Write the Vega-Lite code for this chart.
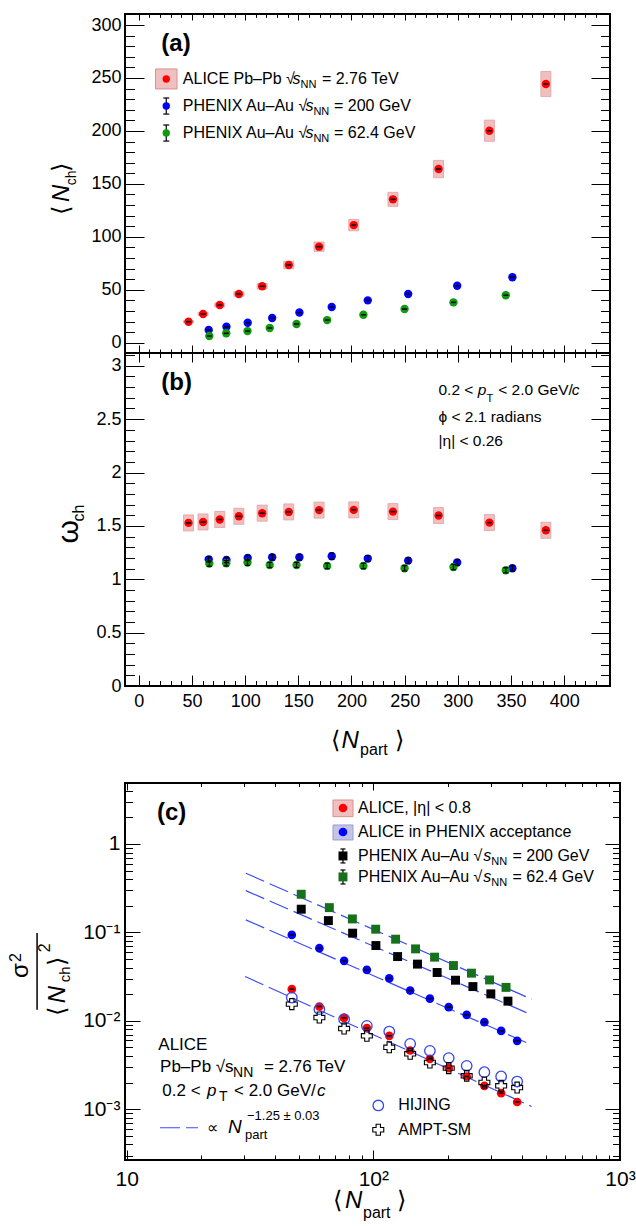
{
"$schema":"https://vega.github.io/schema/vega-lite/v6.json",
"autosize":"none",
"padding":{"left":125,"top":14,"right":511,"bottom":1212},
"bounds":"flush",
"spacing":0,
"resolve":{"scale":{"color":"independent"}},
"config":{"font":"Liberation Sans","view":{"stroke":"#000000","strokeWidth":2},"axis":{"grid":false,"domain":false,"labelFont":"Liberation Sans","labelColor":"#000000","tickColor":"#000000","tickWidth":1,"labelFlush":false,"labelOverlap":false},"text":{"font":"Liberation Sans","color":"#000000"}},
"datasets":{
"a":[
{"s":"ALICE","n":46.7,"v":19.8,"lo":18.8,"hi":20.8},{"s":"ALICE","n":60.4,"v":27.1,"lo":25.8,"hi":28.4},{"s":"ALICE","n":76.1,"v":35.6,"lo":33.9,"hi":37.3},{"s":"ALICE","n":94.1,"v":46.0,"lo":43.8,"hi":48.2},{"s":"ALICE","n":116.0,"v":53.3,"lo":50.7,"hi":55.9},{"s":"ALICE","n":141.0,"v":73.4,"lo":69.9,"hi":76.9},{"s":"ALICE","n":169.5,"v":90.7,"lo":86.3,"hi":95.1},{"s":"ALICE","n":202.1,"v":111.1,"lo":105.7,"hi":116.5},{"s":"ALICE","n":239.0,"v":135.4,"lo":128.8,"hi":142.0},{"s":"ALICE","n":281.9,"v":164.0,"lo":155.8,"hi":172.2},{"s":"ALICE","n":329.7,"v":200.2,"lo":190.2,"hi":210.2},{"s":"ALICE","n":382.8,"v":244.3,"lo":232.5,"hi":256.1},
{"s":"P200","n":65.7,"v":12.0},{"s":"P200","n":82.4,"v":15.1},{"s":"P200","n":102.4,"v":18.9},{"s":"P200","n":125.4,"v":23.3},{"s":"P200","n":151.0,"v":28.5},{"s":"P200","n":181.4,"v":33.7},{"s":"P200","n":215.3,"v":40.0},{"s":"P200","n":253.3,"v":46.0},{"s":"P200","n":299.4,"v":53.8},{"s":"P200","n":351.3,"v":61.8},
{"s":"P62","n":66.3,"v":6.3},{"s":"P62","n":82.2,"v":8.9},{"s":"P62","n":102.2,"v":11.0},{"s":"P62","n":123.1,"v":13.9},{"s":"P62","n":148.3,"v":17.7},{"s":"P62","n":177.1,"v":21.4},{"s":"P62","n":211.2,"v":26.4},{"s":"P62","n":249.9,"v":31.8},{"s":"P62","n":295.9,"v":38.1},{"s":"P62","n":345.1,"v":44.8}],
"la":[{"s":"ALICE","x":25.8,"y":249.0},{"s":"P200","x":25.8,"y":223.5,"lo":215.9,"hi":231.1},{"s":"P62","x":25.8,"y":198.0,"lo":190.4,"hi":205.6}],
"ta":[
{"k":"tag","x":21.2,"y":282.1,"t":"(a)"},
{"k":"leg","x":41.4,"y":249.0,"t":"ALICE Pb–Pb √"},{"k":"legi","x":144.6,"y":249.0,"t":"s"},{"k":"legs","x":152.0,"y":243.3,"t":"NN"},{"k":"leg","x":172.2,"y":249.0,"t":"= 2.76 TeV"},
{"k":"leg","x":41.4,"y":223.5,"t":"PHENIX Au–Au √"},{"k":"legi","x":156.8,"y":223.5,"t":"s"},{"k":"legs","x":164.2,"y":217.9,"t":"NN"},{"k":"leg","x":183.5,"y":223.5,"t":"= 200 GeV"},
{"k":"leg","x":41.4,"y":198.0,"t":"PHENIX Au–Au √"},{"k":"legi","x":156.8,"y":198.0,"t":"s"},{"k":"legs","x":164.2,"y":192.4,"t":"NN"},{"k":"leg","x":183.5,"y":198.0,"t":"= 62.4 GeV"},
{"k":"yt","x":-65.4,"y":120.6,"t":"⟨"},{"k":"yti","x":-65.4,"y":132.9,"t":"N"},{"k":"yts","x":-58.9,"y":148.8,"t":"ch"},{"k":"yt","x":-65.4,"y":161.2,"t":"⟩"}],
"b":[
{"s":"ALICE","n":46.7,"v":1.528,"lo":1.453,"hi":1.603},{"s":"ALICE","n":60.4,"v":1.537,"lo":1.462,"hi":1.612},{"s":"ALICE","n":76.1,"v":1.560,"lo":1.485,"hi":1.635},{"s":"ALICE","n":94.1,"v":1.590,"lo":1.515,"hi":1.665},{"s":"ALICE","n":116.0,"v":1.619,"lo":1.544,"hi":1.694},{"s":"ALICE","n":141.0,"v":1.631,"lo":1.556,"hi":1.706},{"s":"ALICE","n":169.5,"v":1.648,"lo":1.573,"hi":1.723},{"s":"ALICE","n":202.1,"v":1.650,"lo":1.575,"hi":1.725},{"s":"ALICE","n":239.0,"v":1.634,"lo":1.559,"hi":1.709},{"s":"ALICE","n":281.9,"v":1.597,"lo":1.522,"hi":1.672},{"s":"ALICE","n":329.7,"v":1.531,"lo":1.456,"hi":1.606},{"s":"ALICE","n":382.8,"v":1.459,"lo":1.384,"hi":1.534},
{"s":"P200","n":65.7,"v":1.187,"lo":1.162,"hi":1.212},{"s":"P200","n":82.4,"v":1.181,"lo":1.156,"hi":1.206},{"s":"P200","n":102.4,"v":1.200,"lo":1.175,"hi":1.225},{"s":"P200","n":125.4,"v":1.206,"lo":1.181,"hi":1.231},{"s":"P200","n":151.0,"v":1.206,"lo":1.181,"hi":1.231},{"s":"P200","n":181.4,"v":1.216,"lo":1.186,"hi":1.246},{"s":"P200","n":215.3,"v":1.194,"lo":1.166,"hi":1.222},{"s":"P200","n":253.3,"v":1.175,"lo":1.148,"hi":1.202},{"s":"P200","n":299.4,"v":1.157,"lo":1.131,"hi":1.183},{"s":"P200","n":351.3,"v":1.103,"lo":1.078,"hi":1.128},
{"s":"P62","n":66.3,"v":1.147,"lo":1.122,"hi":1.172},{"s":"P62","n":82.2,"v":1.150,"lo":1.125,"hi":1.175},{"s":"P62","n":102.2,"v":1.157,"lo":1.130,"hi":1.184},{"s":"P62","n":123.1,"v":1.134,"lo":1.110,"hi":1.158},{"s":"P62","n":148.3,"v":1.134,"lo":1.110,"hi":1.158},{"s":"P62","n":177.1,"v":1.125,"lo":1.100,"hi":1.150},{"s":"P62","n":211.2,"v":1.125,"lo":1.100,"hi":1.150},{"s":"P62","n":249.9,"v":1.103,"lo":1.078,"hi":1.128},{"s":"P62","n":295.9,"v":1.115,"lo":1.090,"hi":1.140},{"s":"P62","n":345.1,"v":1.084,"lo":1.060,"hi":1.108}],
"tb":[
{"k":"tag","x":21.2,"y":2.835,"t":"(b)"},
{"k":"ann","x":281.8,"y":2.770,"t":"0.2 <"},{"k":"anni","x":318.7,"y":2.770,"t":"p"},{"k":"anns","x":327.0,"y":2.685,"t":"T"},{"k":"ann","x":338.0,"y":2.770,"t":"< 2.0 GeV/"},{"k":"anni","x":407.1,"y":2.770,"t":"c"},
{"k":"ann","x":281.8,"y":2.519,"t":"ϕ < 2.1 radians"},{"k":"ann","x":281.8,"y":2.292,"t":"|η| < 0.26"},
{"k":"ytw","x":-57.1,"y":1.336,"t":"ω"},{"k":"yts","x":-51.6,"y":1.542,"t":"ch"},
{"k":"xt","x":180.5,"y":-0.583,"t":"⟨"},{"k":"xti","x":190.6,"y":-0.583,"t":"N"},{"k":"xts","x":208.1,"y":-0.649,"t":"part"},{"k":"xt","x":241.3,"y":-0.583,"t":"⟩"}],
"c":[
{"s":"ALICE","n":46.7,"v":0.0228},{"s":"ALICE","n":60.4,"v":0.01452},{"s":"ALICE","n":76.1,"v":0.01081},{"s":"ALICE","n":94.1,"v":0.00827},{"s":"ALICE","n":116.0,"v":0.00677},{"s":"ALICE","n":141.0,"v":0.00462},{"s":"ALICE","n":169.5,"v":0.00372},{"s":"ALICE","n":202.1,"v":0.00292},{"s":"ALICE","n":239.0,"v":0.00235},{"s":"ALICE","n":281.9,"v":0.00184},{"s":"ALICE","n":329.7,"v":0.00152},{"s":"ALICE","n":382.8,"v":0.00121},
{"s":"ACC","n":46.7,"v":0.0937},{"s":"ACC","n":60.4,"v":0.0663},{"s":"ACC","n":76.1,"v":0.0477},{"s":"ACC","n":94.1,"v":0.0377},{"s":"ACC","n":116.0,"v":0.0302},{"s":"ACC","n":141.0,"v":0.0220},{"s":"ACC","n":169.5,"v":0.01786},{"s":"ACC","n":202.1,"v":0.01428},{"s":"ACC","n":239.0,"v":0.01169},{"s":"ACC","n":281.9,"v":0.00967},{"s":"ACC","n":329.7,"v":0.00770},{"s":"ACC","n":382.8,"v":0.00594},
{"s":"P200","n":51.0,"v":0.183},{"s":"P200","n":65.7,"v":0.136},{"s":"P200","n":82.4,"v":0.098},{"s":"P200","n":102.4,"v":0.0710},{"s":"P200","n":125.4,"v":0.0533},{"s":"P200","n":151.0,"v":0.0438},{"s":"P200","n":181.4,"v":0.0352},{"s":"P200","n":215.3,"v":0.0288},{"s":"P200","n":253.3,"v":0.0244},{"s":"P200","n":299.4,"v":0.0202},{"s":"P200","n":351.3,"v":0.0167},
{"s":"P62","n":51.0,"v":0.270},{"s":"P62","n":66.3,"v":0.1906},{"s":"P62","n":82.2,"v":0.142},{"s":"P62","n":102.2,"v":0.1087},{"s":"P62","n":123.1,"v":0.0838},{"s":"P62","n":148.3,"v":0.0651},{"s":"P62","n":177.1,"v":0.0525},{"s":"P62","n":211.2,"v":0.0422},{"s":"P62","n":249.9,"v":0.0346},{"s":"P62","n":295.9,"v":0.0290},{"s":"P62","n":345.1,"v":0.0239},
{"s":"HIJING","n":46.7,"v":0.01834},{"s":"HIJING","n":60.4,"v":0.01355},{"s":"HIJING","n":76.1,"v":0.01045},{"s":"HIJING","n":94.1,"v":0.00878},{"s":"HIJING","n":116.0,"v":0.00757},{"s":"HIJING","n":141.0,"v":0.00550},{"s":"HIJING","n":169.5,"v":0.00458},{"s":"HIJING","n":202.1,"v":0.00379},{"s":"HIJING","n":239.0,"v":0.00310},{"s":"HIJING","n":281.9,"v":0.00263},{"s":"HIJING","n":329.7,"v":0.00235},{"s":"HIJING","n":382.8,"v":0.00206},
{"s":"AMPT","n":46.7,"v":0.01545},{"s":"AMPT","n":60.4,"v":0.01090},{"s":"AMPT","n":76.1,"v":0.00818},{"s":"AMPT","n":94.1,"v":0.00677},{"s":"AMPT","n":116.0,"v":0.00502},{"s":"AMPT","n":141.0,"v":0.00424},{"s":"AMPT","n":169.5,"v":0.00338},{"s":"AMPT","n":202.1,"v":0.00292},{"s":"AMPT","n":239.0,"v":0.00239},{"s":"AMPT","n":281.9,"v":0.00201},{"s":"AMPT","n":329.7,"v":0.00184},{"s":"AMPT","n":382.8,"v":0.00176}],
"cfit":[{"g":"l62","n":30.4,"v":0.467},{"g":"l62","n":438,"v":0.01758},{"g":"l200","n":30.4,"v":0.2966},{"g":"l200","n":438,"v":0.01169},{"g":"lacc","n":30.4,"v":0.1385},{"g":"lacc","n":438,"v":0.00536},{"g":"lal","n":30.2,"v":0.0317},{"g":"lal","n":438,"v":0.001076}],
"lc":[{"s":"ALICE","x":75.3,"y":2.552},{"s":"ACC","x":75.3,"y":1.366},{"s":"P200","x":75.3,"y":0.732,"lo":0.610,"hi":0.878},{"s":"P62","x":75.3,"y":0.424,"lo":0.353,"hi":0.508}],
"tc":[
{"k":"tag","x":13.27,"y":2.24,"t":"(c)"},
{"k":"leg","x":86.6,"y":2.552,"t":"ALICE, |η| < 0.8"},{"k":"leg","x":86.6,"y":1.366,"t":"ALICE in PHENIX acceptance"},
{"k":"leg","x":86.6,"y":0.732,"t":"PHENIX Au–Au √"},{"k":"legi","x":279.0,"y":0.732,"t":"s"},{"k":"legs","x":300.6,"y":0.626,"t":"NN"},{"k":"leg","x":366.4,"y":0.732,"t":"= 200 GeV"},
{"k":"leg","x":86.6,"y":0.424,"t":"PHENIX Au–Au √"},{"k":"legi","x":279.0,"y":0.424,"t":"s"},{"k":"legs","x":300.6,"y":0.3625,"t":"NN"},{"k":"leg","x":366.4,"y":0.424,"t":"= 62.4 GeV"},
{"k":"leg","x":126.2,"y":0.001104,"t":"HIJING"},{"k":"leg","x":126.2,"y":0.000587,"t":"AMPT-SM"},
{"k":"blk","x":13.43,"y":0.005355,"t":"ALICE"},
{"k":"blk","x":13.65,"y":0.002998,"t":"Pb–Pb √"},{"k":"blk","x":25.03,"y":0.002998,"t":"s"},{"k":"blks","x":26.98,"y":0.002585,"t":"NN"},{"k":"blk","x":36.0,"y":0.002998,"t":"= 2.76 TeV"},
{"k":"blk","x":13.94,"y":0.001589,"t":"0.2 <"},{"k":"blki","x":21.16,"y":0.001589,"t":"p"},{"k":"blks","x":23.66,"y":0.001384,"t":"T"},{"k":"blk","x":27.22,"y":0.001589,"t":"< 2.0 GeV/"},{"k":"blki","x":59.07,"y":0.001589,"t":"c"},
{"k":"leg","x":21.1,"y":0.000618,"t":"∝"},{"k":"fitn","x":25.74,"y":0.000634,"t":"N"},{"k":"fits","x":30.73,"y":0.000829,"t":"−1.25 ± 0.03"},{"k":"fits","x":30.17,"y":0.000515,"t":"part"},
{"k":"yt","x":3.98,"y":0.0305,"t":"σ"},{"k":"ysup","x":3.73,"y":0.0463,"t":"2"},
{"k":"yt","x":5.62,"y":0.0113,"t":"⟨"},{"k":"yti","x":5.62,"y":0.0158,"t":"N"},{"k":"yts","x":5.89,"y":0.0273,"t":"ch"},{"k":"yt","x":5.62,"y":0.0414,"t":"⟩"},{"k":"ysup","x":4.89,"y":0.0596,"t":"2"},
{"k":"xt","x":68.6,"y":0.0000771,"t":"⟨"},{"k":"xti","x":76.7,"y":0.0000771,"t":"N"},{"k":"xts","x":90.76,"y":0.0000594,"t":"part"},{"k":"xt","x":124.6,"y":0.0000771,"t":"⟩"}]
},
"vconcat":[
{"width":485,"height":339,
"resolve":{"axis":{"x":"independent","y":"independent"}},
"layer":[
{"data":{"name":"a"},"transform":[{"filter":"datum.s==='ALICE'"}],"mark":{"type":"bar","width":10,"fill":"#f0c0c0","stroke":"#e2a0a0","strokeWidth":0.8,"opacity":1},
"encoding":{"x":{"field":"n","type":"quantitative","scale":{"domain":[-8.3,438.4],"nice":false,"zero":false},"axis":{"orient":"bottom","title":null,"values":[0,10,20,30,40,50,60,70,80,90,100,110,120,130,140,150,160,170,180,190,200,210,220,230,240,250,260,270,280,290,300,310,320,330,340,350,360,370,380,390,400,410,420,430],"labels":false,"tickSize":{"condition":{"test":"datum.value % 50 === 0","value":-8},"value":-4}}},
"y":{"field":"lo","type":"quantitative","scale":{"domain":[-9.7,310.4],"nice":false,"zero":false},"axis":{"orient":"left","title":null,"values":[0,10,20,30,40,50,60,70,80,90,100,110,120,130,140,150,160,170,180,190,200,210,220,230,240,250,260,270,280,290,300,310],"labelExpr":"datum.value % 50 === 0 ? '' + datum.value : ''","labelFontSize":18,"labelPadding":23,"tickSize":{"condition":{"test":"datum.value % 50 === 0","value":-19},"value":-9.5}}},
"y2":{"field":"hi"}}},
{"data":{"name":"a"},"mark":{"type":"circle","size":70,"opacity":1},
"encoding":{"x":{"field":"n","type":"quantitative","scale":{"domain":[-8.3,438.4],"nice":false,"zero":false},"axis":{"orient":"top","title":null,"values":[0,10,20,30,40,50,60,70,80,90,100,110,120,130,140,150,160,170,180,190,200,210,220,230,240,250,260,270,280,290,300,310,320,330,340,350,360,370,380,390,400,410,420,430],"labels":false,"tickSize":{"condition":{"test":"datum.value % 50 === 0","value":-6},"value":-3.3}}},
"y":{"field":"v","type":"quantitative","scale":{"domain":[-9.7,310.4],"nice":false,"zero":false},"axis":{"orient":"right","title":null,"values":[0,10,20,30,40,50,60,70,80,90,100,110,120,130,140,150,160,170,180,190,200,210,220,230,240,250,260,270,280,290,300,310],"labels":false,"tickSize":{"condition":{"test":"datum.value % 50 === 0","value":-19},"value":-9.5}}},
"color":{"field":"s","type":"nominal","scale":{"domain":["ALICE","P200","P62"],"range":["#ff0000","#0000ff","#0f9a0f"]},"legend":null}}},
{"data":{"name":"a"},"mark":{"type":"tick","orient":"horizontal","size":5,"thickness":1.5,"color":"#000000","opacity":1},
"encoding":{"x":{"field":"n","type":"quantitative","scale":{"domain":[-8.3,438.4],"nice":false,"zero":false},"axis":null},"y":{"field":"v","type":"quantitative","scale":{"domain":[-9.7,310.4],"nice":false,"zero":false},"axis":null}}},
{"data":{"values":[{"x1":15.7,"x2":35.9,"y1":239.6,"y2":258.5}]},"mark":{"type":"rect","fill":"#f0c0c0","stroke":"#d89090","strokeWidth":1,"opacity":1},
"encoding":{"x":{"field":"x1","type":"quantitative","scale":{"domain":[-8.3,438.4],"nice":false,"zero":false},"axis":null},"x2":{"field":"x2"},"y":{"field":"y1","type":"quantitative","scale":{"domain":[-9.7,310.4],"nice":false,"zero":false},"axis":null},"y2":{"field":"y2"}}},
{"data":{"name":"la"},"transform":[{"filter":"datum.s!=='ALICE'"}],"mark":{"type":"rule","color":"#000000","strokeWidth":1.2},
"encoding":{"x":{"field":"x","type":"quantitative","scale":{"domain":[-8.3,438.4],"nice":false,"zero":false},"axis":null},"y":{"field":"lo","type":"quantitative","scale":{"domain":[-9.7,310.4],"nice":false,"zero":false},"axis":null},"y2":{"field":"hi"}}},
{"data":{"name":"la"},"transform":[{"filter":"datum.s!=='ALICE'"}],"mark":{"type":"tick","orient":"horizontal","size":6,"thickness":1.2,"color":"#000000","opacity":1},
"encoding":{"x":{"field":"x","type":"quantitative","scale":{"domain":[-8.3,438.4],"nice":false,"zero":false},"axis":null},"y":{"field":"lo","type":"quantitative","scale":{"domain":[-9.7,310.4],"nice":false,"zero":false},"axis":null}}},
{"data":{"name":"la"},"transform":[{"filter":"datum.s!=='ALICE'"}],"mark":{"type":"tick","orient":"horizontal","size":6,"thickness":1.2,"color":"#000000","opacity":1},
"encoding":{"x":{"field":"x","type":"quantitative","scale":{"domain":[-8.3,438.4],"nice":false,"zero":false},"axis":null},"y":{"field":"hi","type":"quantitative","scale":{"domain":[-9.7,310.4],"nice":false,"zero":false},"axis":null}}},
{"data":{"name":"la"},"mark":{"type":"circle","size":55,"opacity":1},
"encoding":{"x":{"field":"x","type":"quantitative","scale":{"domain":[-8.3,438.4],"nice":false,"zero":false},"axis":null},"y":{"field":"y","type":"quantitative","scale":{"domain":[-9.7,310.4],"nice":false,"zero":false},"axis":null},"color":{"field":"s","type":"nominal","scale":{"domain":["ALICE","P200","P62"],"range":["#ff0000","#0000ff","#0f9a0f"]},"legend":null}}},
{"data":{"name":"ta"},"transform":[{"filter":"datum.k==='tag'"}],"mark":{"type":"text","align":"left","baseline":"middle","fontSize":24,"fontWeight":"bold"},
"encoding":{"x":{"field":"x","type":"quantitative","scale":{"domain":[-8.3,438.4],"nice":false,"zero":false},"axis":null},"y":{"field":"y","type":"quantitative","scale":{"domain":[-9.7,310.4],"nice":false,"zero":false},"axis":null},"text":{"field":"t"}}},
{"data":{"name":"ta"},"transform":[{"filter":"datum.k==='leg'"}],"mark":{"type":"text","align":"left","baseline":"middle","fontSize":16},
"encoding":{"x":{"field":"x","type":"quantitative","scale":{"domain":[-8.3,438.4],"nice":false,"zero":false},"axis":null},"y":{"field":"y","type":"quantitative","scale":{"domain":[-9.7,310.4],"nice":false,"zero":false},"axis":null},"text":{"field":"t"}}},
{"data":{"name":"ta"},"transform":[{"filter":"datum.k==='legi'"}],"mark":{"type":"text","align":"left","baseline":"middle","fontSize":16,"fontStyle":"italic"},
"encoding":{"x":{"field":"x","type":"quantitative","scale":{"domain":[-8.3,438.4],"nice":false,"zero":false},"axis":null},"y":{"field":"y","type":"quantitative","scale":{"domain":[-9.7,310.4],"nice":false,"zero":false},"axis":null},"text":{"field":"t"}}},
{"data":{"name":"ta"},"transform":[{"filter":"datum.k==='legs'"}],"mark":{"type":"text","align":"left","baseline":"middle","fontSize":11},
"encoding":{"x":{"field":"x","type":"quantitative","scale":{"domain":[-8.3,438.4],"nice":false,"zero":false},"axis":null},"y":{"field":"y","type":"quantitative","scale":{"domain":[-9.7,310.4],"nice":false,"zero":false},"axis":null},"text":{"field":"t"}}},
{"data":{"name":"ta"},"transform":[{"filter":"datum.k==='yt'"}],"mark":{"type":"text","align":"left","baseline":"alphabetic","angle":270,"fontSize":24},
"encoding":{"x":{"field":"x","type":"quantitative","scale":{"domain":[-8.3,438.4],"nice":false,"zero":false},"axis":null},"y":{"field":"y","type":"quantitative","scale":{"domain":[-9.7,310.4],"nice":false,"zero":false},"axis":null},"text":{"field":"t"}}},
{"data":{"name":"ta"},"transform":[{"filter":"datum.k==='yti'"}],"mark":{"type":"text","align":"left","baseline":"alphabetic","angle":270,"fontSize":24,"fontStyle":"italic"},
"encoding":{"x":{"field":"x","type":"quantitative","scale":{"domain":[-8.3,438.4],"nice":false,"zero":false},"axis":null},"y":{"field":"y","type":"quantitative","scale":{"domain":[-9.7,310.4],"nice":false,"zero":false},"axis":null},"text":{"field":"t"}}},
{"data":{"name":"ta"},"transform":[{"filter":"datum.k==='yts'"}],"mark":{"type":"text","align":"left","baseline":"alphabetic","angle":270,"fontSize":14},
"encoding":{"x":{"field":"x","type":"quantitative","scale":{"domain":[-8.3,438.4],"nice":false,"zero":false},"axis":null},"y":{"field":"y","type":"quantitative","scale":{"domain":[-9.7,310.4],"nice":false,"zero":false},"axis":null},"text":{"field":"t"}}}
]},
{"width":485,"height":333,
"resolve":{"axis":{"x":"independent","y":"independent"}},
"layer":[
{"data":{"name":"b"},"transform":[{"filter":"datum.s==='ALICE'"}],"mark":{"type":"bar","width":10,"fill":"#f0c0c0","stroke":"#e2a0a0","strokeWidth":0.8,"opacity":1},
"encoding":{"x":{"field":"n","type":"quantitative","scale":{"domain":[-8.3,438.4],"nice":false,"zero":false},"axis":{"orient":"bottom","title":null,"values":[0,10,20,30,40,50,60,70,80,90,100,110,120,130,140,150,160,170,180,190,200,210,220,230,240,250,260,270,280,290,300,310,320,330,340,350,360,370,380,390,400,410,420,430],"labelExpr":"datum.value % 50 === 0 ? '' + datum.value : ''","labelFontSize":18,"labelPadding":17,"tickSize":{"condition":{"test":"datum.value % 50 === 0","value":-11},"value":-5.5}}},
"y":{"field":"lo","type":"quantitative","scale":{"domain":[0,3.12],"nice":false,"zero":false},"axis":{"orient":"left","title":null,"values":[0,0.1,0.2,0.3,0.4,0.5,0.6,0.7,0.8,0.9,1,1.1,1.2,1.3,1.4,1.5,1.6,1.7,1.8,1.9,2,2.1,2.2,2.3,2.4,2.5,2.6,2.7,2.8,2.9,3,3.1],"labelExpr":"abs(datum.value*2 - round(datum.value*2)) < 0.000001 ? '' + datum.value : ''","labelFontSize":18,"labelPadding":23,"tickSize":{"condition":{"test":"abs(datum.value*2 - round(datum.value*2)) < 0.000001","value":-19},"value":-9.5}}},
"y2":{"field":"hi"}}},
{"data":{"name":"b"},"mark":{"type":"circle","size":70,"opacity":1},
"encoding":{"x":{"field":"n","type":"quantitative","scale":{"domain":[-8.3,438.4],"nice":false,"zero":false},"axis":{"orient":"top","title":null,"values":[0,10,20,30,40,50,60,70,80,90,100,110,120,130,140,150,160,170,180,190,200,210,220,230,240,250,260,270,280,290,300,310,320,330,340,350,360,370,380,390,400,410,420,430],"labels":false,"tickSize":{"condition":{"test":"datum.value % 50 === 0","value":-9},"value":-4.5}}},
"y":{"field":"v","type":"quantitative","scale":{"domain":[0,3.12],"nice":false,"zero":false},"axis":{"orient":"right","title":null,"values":[0,0.1,0.2,0.3,0.4,0.5,0.6,0.7,0.8,0.9,1,1.1,1.2,1.3,1.4,1.5,1.6,1.7,1.8,1.9,2,2.1,2.2,2.3,2.4,2.5,2.6,2.7,2.8,2.9,3,3.1],"labels":false,"tickSize":{"condition":{"test":"abs(datum.value*2 - round(datum.value*2)) < 0.000001","value":-19},"value":-9.5}}},
"color":{"field":"s","type":"nominal","scale":{"domain":["ALICE","P200","P62"],"range":["#ff0000","#0000ff","#0f9a0f"]},"legend":null}}},
{"data":{"name":"b"},"transform":[{"filter":"datum.s==='ALICE'"}],"mark":{"type":"tick","orient":"horizontal","size":5,"thickness":1.5,"color":"#000000","opacity":1},
"encoding":{"x":{"field":"n","type":"quantitative","scale":{"domain":[-8.3,438.4],"nice":false,"zero":false},"axis":null},"y":{"field":"v","type":"quantitative","scale":{"domain":[0,3.12],"nice":false,"zero":false},"axis":null}}},
{"data":{"name":"b"},"transform":[{"filter":"datum.s!=='ALICE'"}],"mark":{"type":"rule","color":"#000000","strokeWidth":1.2},
"encoding":{"x":{"field":"n","type":"quantitative","scale":{"domain":[-8.3,438.4],"nice":false,"zero":false},"axis":null},"y":{"field":"lo","type":"quantitative","scale":{"domain":[0,3.12],"nice":false,"zero":false},"axis":null},"y2":{"field":"hi"}}},
{"data":{"name":"b"},"transform":[{"filter":"datum.s!=='ALICE'"}],"mark":{"type":"tick","orient":"horizontal","size":5,"thickness":1.2,"color":"#000000","opacity":1},
"encoding":{"x":{"field":"n","type":"quantitative","scale":{"domain":[-8.3,438.4],"nice":false,"zero":false},"axis":null},"y":{"field":"lo","type":"quantitative","scale":{"domain":[0,3.12],"nice":false,"zero":false},"axis":null}}},
{"data":{"name":"b"},"transform":[{"filter":"datum.s!=='ALICE'"}],"mark":{"type":"tick","orient":"horizontal","size":5,"thickness":1.2,"color":"#000000","opacity":1},
"encoding":{"x":{"field":"n","type":"quantitative","scale":{"domain":[-8.3,438.4],"nice":false,"zero":false},"axis":null},"y":{"field":"hi","type":"quantitative","scale":{"domain":[0,3.12],"nice":false,"zero":false},"axis":null}}},
{"data":{"name":"tb"},"transform":[{"filter":"datum.k==='tag'"}],"mark":{"type":"text","align":"left","baseline":"middle","fontSize":24,"fontWeight":"bold"},
"encoding":{"x":{"field":"x","type":"quantitative","scale":{"domain":[-8.3,438.4],"nice":false,"zero":false},"axis":null},"y":{"field":"y","type":"quantitative","scale":{"domain":[0,3.12],"nice":false,"zero":false},"axis":null},"text":{"field":"t"}}},
{"data":{"name":"tb"},"transform":[{"filter":"datum.k==='ann'"}],"mark":{"type":"text","align":"left","baseline":"middle","fontSize":15.5},
"encoding":{"x":{"field":"x","type":"quantitative","scale":{"domain":[-8.3,438.4],"nice":false,"zero":false},"axis":null},"y":{"field":"y","type":"quantitative","scale":{"domain":[0,3.12],"nice":false,"zero":false},"axis":null},"text":{"field":"t"}}},
{"data":{"name":"tb"},"transform":[{"filter":"datum.k==='anni'"}],"mark":{"type":"text","align":"left","baseline":"middle","fontSize":15.5,"fontStyle":"italic"},
"encoding":{"x":{"field":"x","type":"quantitative","scale":{"domain":[-8.3,438.4],"nice":false,"zero":false},"axis":null},"y":{"field":"y","type":"quantitative","scale":{"domain":[0,3.12],"nice":false,"zero":false},"axis":null},"text":{"field":"t"}}},
{"data":{"name":"tb"},"transform":[{"filter":"datum.k==='anns'"}],"mark":{"type":"text","align":"left","baseline":"middle","fontSize":11},
"encoding":{"x":{"field":"x","type":"quantitative","scale":{"domain":[-8.3,438.4],"nice":false,"zero":false},"axis":null},"y":{"field":"y","type":"quantitative","scale":{"domain":[0,3.12],"nice":false,"zero":false},"axis":null},"text":{"field":"t"}}},
{"data":{"name":"tb"},"transform":[{"filter":"datum.k==='ytw'"}],"mark":{"type":"text","align":"left","baseline":"alphabetic","angle":270,"fontSize":30},
"encoding":{"x":{"field":"x","type":"quantitative","scale":{"domain":[-8.3,438.4],"nice":false,"zero":false},"axis":null},"y":{"field":"y","type":"quantitative","scale":{"domain":[0,3.12],"nice":false,"zero":false},"axis":null},"text":{"field":"t"}}},
{"data":{"name":"tb"},"transform":[{"filter":"datum.k==='yts'"}],"mark":{"type":"text","align":"left","baseline":"alphabetic","angle":270,"fontSize":16},
"encoding":{"x":{"field":"x","type":"quantitative","scale":{"domain":[-8.3,438.4],"nice":false,"zero":false},"axis":null},"y":{"field":"y","type":"quantitative","scale":{"domain":[0,3.12],"nice":false,"zero":false},"axis":null},"text":{"field":"t"}}},
{"data":{"name":"tb"},"transform":[{"filter":"datum.k==='xt'"}],"mark":{"type":"text","align":"left","baseline":"alphabetic","fontSize":24},
"encoding":{"x":{"field":"x","type":"quantitative","scale":{"domain":[-8.3,438.4],"nice":false,"zero":false},"axis":null},"y":{"field":"y","type":"quantitative","scale":{"domain":[0,3.12],"nice":false,"zero":false},"axis":null},"text":{"field":"t"}}},
{"data":{"name":"tb"},"transform":[{"filter":"datum.k==='xti'"}],"mark":{"type":"text","align":"left","baseline":"alphabetic","fontSize":24,"fontStyle":"italic"},
"encoding":{"x":{"field":"x","type":"quantitative","scale":{"domain":[-8.3,438.4],"nice":false,"zero":false},"axis":null},"y":{"field":"y","type":"quantitative","scale":{"domain":[0,3.12],"nice":false,"zero":false},"axis":null},"text":{"field":"t"}}},
{"data":{"name":"tb"},"transform":[{"filter":"datum.k==='xts'"}],"mark":{"type":"text","align":"left","baseline":"alphabetic","fontSize":16},
"encoding":{"x":{"field":"x","type":"quantitative","scale":{"domain":[-8.3,438.4],"nice":false,"zero":false},"axis":null},"y":{"field":"y","type":"quantitative","scale":{"domain":[0,3.12],"nice":false,"zero":false},"axis":null},"text":{"field":"t"}}}
]},
{"width":485,"height":97,"view":{"stroke":null},"data":{"values":[]},"mark":"point"},
{"width":495,"height":377,
"resolve":{"axis":{"x":"independent","y":"independent"}},
"layer":[
{"data":{"name":"cfit"},"mark":{"type":"line","color":"#3b4cf5","strokeWidth":1.2,"strokeDash":[20,6]},
"encoding":{"x":{"field":"n","type":"quantitative","scale":{"type":"log","domain":[9.84,1000],"nice":false},"axis":{"orient":"bottom","title":null,"values":[10,20,30,40,50,60,70,80,90,100,200,300,400,500,600,700,800,900,1000],"labelExpr":"abs(log(datum.value)/LN10 - round(log(datum.value)/LN10)) < 0.000001 ? (round(log(datum.value)/LN10) == 1 ? '10' : round(log(datum.value)/LN10) == 2 ? '10²' : '10³') : ''","labelFontSize":21,"labelPadding":18,"tickSize":{"condition":{"test":"abs(log(datum.value)/LN10 - round(log(datum.value)/LN10)) < 0.000001","value":-10},"value":-5}}},
"y":{"field":"v","type":"quantitative","scale":{"type":"log","domain":[0.000267,4.89],"nice":false},"axis":{"orient":"left","title":null,"values":[0.0003,0.0004,0.0005,0.0006,0.0007,0.0008,0.0009,0.001,0.002,0.003,0.004,0.005,0.006,0.007,0.008,0.009,0.01,0.02,0.03,0.04,0.05,0.06,0.07,0.08,0.09,0.1,0.2,0.3,0.4,0.5,0.6,0.7,0.8,0.9,1,2,3,4],"labelExpr":"abs(log(datum.value)/LN10 - round(log(datum.value)/LN10)) < 0.000001 ? (round(log(datum.value)/LN10) == 0 ? '1' : round(log(datum.value)/LN10) == -1 ? '10⁻¹' : round(log(datum.value)/LN10) == -2 ? '10⁻²' : '10⁻³') : ''","labelFontSize":21,"labelPadding":20,"tickSize":{"condition":{"test":"abs(log(datum.value)/LN10 - round(log(datum.value)/LN10)) < 0.000001","value":-15},"value":-7.5}}},
"detail":{"field":"g"}}},
{"data":{"name":"c"},"transform":[{"filter":"datum.s==='ALICE' || datum.s==='ACC'"}],"mark":{"type":"circle","size":75,"opacity":1},
"encoding":{"x":{"field":"n","type":"quantitative","scale":{"type":"log","domain":[9.84,1000],"nice":false},"axis":{"orient":"top","title":null,"values":[10,20,30,40,50,60,70,80,90,100,200,300,400,500,600,700,800,900,1000],"labels":false,"tickSize":{"condition":{"test":"abs(log(datum.value)/LN10 - round(log(datum.value)/LN10)) < 0.000001","value":-7},"value":-3.5}}},
"y":{"field":"v","type":"quantitative","scale":{"type":"log","domain":[0.000267,4.89],"nice":false},"axis":{"orient":"right","title":null,"values":[0.0003,0.0004,0.0005,0.0006,0.0007,0.0008,0.0009,0.001,0.002,0.003,0.004,0.005,0.006,0.007,0.008,0.009,0.01,0.02,0.03,0.04,0.05,0.06,0.07,0.08,0.09,0.1,0.2,0.3,0.4,0.5,0.6,0.7,0.8,0.9,1,2,3,4],"labels":false,"tickSize":{"condition":{"test":"abs(log(datum.value)/LN10 - round(log(datum.value)/LN10)) < 0.000001","value":-15},"value":-7.5}}},
"color":{"field":"s","type":"nominal","scale":{"domain":["ALICE","ACC","P200","P62"],"range":["#ff0000","#0000ff","#000000","#17701a"]},"legend":null}}},
{"data":{"name":"c"},"transform":[{"filter":"datum.s==='P200' || datum.s==='P62'"}],"mark":{"type":"square","size":80,"opacity":1},
"encoding":{"x":{"field":"n","type":"quantitative","scale":{"type":"log","domain":[9.84,1000],"nice":false},"axis":null},"y":{"field":"v","type":"quantitative","scale":{"type":"log","domain":[0.000267,4.89],"nice":false},"axis":null},
"color":{"field":"s","type":"nominal","scale":{"domain":["ALICE","ACC","P200","P62"],"range":["#ff0000","#0000ff","#000000","#17701a"]},"legend":null}}},
{"data":{"name":"c"},"transform":[{"filter":"datum.s==='HIJING'"}],"mark":{"type":"point","shape":"circle","filled":false,"size":110,"color":"#3344ee","strokeWidth":1.3,"opacity":1},
"encoding":{"x":{"field":"n","type":"quantitative","scale":{"type":"log","domain":[9.84,1000],"nice":false},"axis":null},"y":{"field":"v","type":"quantitative","scale":{"type":"log","domain":[0.000267,4.89],"nice":false},"axis":null}}},
{"data":{"name":"c"},"transform":[{"filter":"datum.s==='AMPT'"}],"mark":{"type":"point","shape":"cross","filled":false,"size":120,"color":"#000000","strokeWidth":1.1,"opacity":1},
"encoding":{"x":{"field":"n","type":"quantitative","scale":{"type":"log","domain":[9.84,1000],"nice":false},"axis":null},"y":{"field":"v","type":"quantitative","scale":{"type":"log","domain":[0.000267,4.89],"nice":false},"axis":null}}},
{"data":{"name":"c"},"transform":[{"filter":"datum.s==='ALICE' || datum.s==='ACC'"}],"mark":{"type":"tick","orient":"horizontal","size":5,"thickness":1.5,"color":"#000000","opacity":1},
"encoding":{"x":{"field":"n","type":"quantitative","scale":{"type":"log","domain":[9.84,1000],"nice":false},"axis":null},"y":{"field":"v","type":"quantitative","scale":{"type":"log","domain":[0.000267,4.89],"nice":false},"axis":null}}},
{"data":{"values":[{"x1":68.6,"x2":82.7,"y1":2.035,"y2":3.14}]},"mark":{"type":"rect","fill":"#f0c0c0","stroke":"#d89090","strokeWidth":1,"opacity":1},
"encoding":{"x":{"field":"x1","type":"quantitative","scale":{"type":"log","domain":[9.84,1000],"nice":false},"axis":null},"x2":{"field":"x2"},"y":{"field":"y1","type":"quantitative","scale":{"type":"log","domain":[0.000267,4.89],"nice":false},"axis":null},"y2":{"field":"y2"}}},
{"data":{"values":[{"x1":68.6,"x2":82.7,"y1":1.110,"y2":1.639}]},"mark":{"type":"rect","fill":"#c4c4e8","stroke":"#9c9cd0","strokeWidth":1,"opacity":1},
"encoding":{"x":{"field":"x1","type":"quantitative","scale":{"type":"log","domain":[9.84,1000],"nice":false},"axis":null},"x2":{"field":"x2"},"y":{"field":"y1","type":"quantitative","scale":{"type":"log","domain":[0.000267,4.89],"nice":false},"axis":null},"y2":{"field":"y2"}}},
{"data":{"name":"lc"},"transform":[{"filter":"datum.s==='P200' || datum.s==='P62'"}],"mark":{"type":"rule","color":"#000000","strokeWidth":1.2},
"encoding":{"x":{"field":"x","type":"quantitative","scale":{"type":"log","domain":[9.84,1000],"nice":false},"axis":null},"y":{"field":"lo","type":"quantitative","scale":{"type":"log","domain":[0.000267,4.89],"nice":false},"axis":null},"y2":{"field":"hi"}}},
{"data":{"name":"lc"},"transform":[{"filter":"datum.s==='P200' || datum.s==='P62'"}],"mark":{"type":"tick","orient":"horizontal","size":5,"thickness":1.2,"color":"#000000","opacity":1},
"encoding":{"x":{"field":"x","type":"quantitative","scale":{"type":"log","domain":[9.84,1000],"nice":false},"axis":null},"y":{"field":"lo","type":"quantitative","scale":{"type":"log","domain":[0.000267,4.89],"nice":false},"axis":null}}},
{"data":{"name":"lc"},"transform":[{"filter":"datum.s==='P200' || datum.s==='P62'"}],"mark":{"type":"tick","orient":"horizontal","size":5,"thickness":1.2,"color":"#000000","opacity":1},
"encoding":{"x":{"field":"x","type":"quantitative","scale":{"type":"log","domain":[9.84,1000],"nice":false},"axis":null},"y":{"field":"hi","type":"quantitative","scale":{"type":"log","domain":[0.000267,4.89],"nice":false},"axis":null}}},
{"data":{"name":"lc"},"transform":[{"filter":"datum.s==='ALICE' || datum.s==='ACC'"}],"mark":{"type":"circle","size":75,"opacity":1},
"encoding":{"x":{"field":"x","type":"quantitative","scale":{"type":"log","domain":[9.84,1000],"nice":false},"axis":null},"y":{"field":"y","type":"quantitative","scale":{"type":"log","domain":[0.000267,4.89],"nice":false},"axis":null},
"color":{"field":"s","type":"nominal","scale":{"domain":["ALICE","ACC","P200","P62"],"range":["#ff0000","#0000ff","#000000","#17701a"]},"legend":null}}},
{"data":{"name":"lc"},"transform":[{"filter":"datum.s==='P200' || datum.s==='P62'"}],"mark":{"type":"square","size":80,"opacity":1},
"encoding":{"x":{"field":"x","type":"quantitative","scale":{"type":"log","domain":[9.84,1000],"nice":false},"axis":null},"y":{"field":"y","type":"quantitative","scale":{"type":"log","domain":[0.000267,4.89],"nice":false},"axis":null},
"color":{"field":"s","type":"nominal","scale":{"domain":["ALICE","ACC","P200","P62"],"range":["#ff0000","#0000ff","#000000","#17701a"]},"legend":null}}},
{"data":{"values":[{"x":104.7,"y":0.001104}]},"mark":{"type":"point","shape":"circle","filled":false,"size":110,"color":"#3344ee","strokeWidth":1.3,"opacity":1},
"encoding":{"x":{"field":"x","type":"quantitative","scale":{"type":"log","domain":[9.84,1000],"nice":false},"axis":null},"y":{"field":"y","type":"quantitative","scale":{"type":"log","domain":[0.000267,4.89],"nice":false},"axis":null}}},
{"data":{"values":[{"x":104.7,"y":0.000587}]},"mark":{"type":"point","shape":"cross","filled":false,"size":120,"color":"#000000","strokeWidth":1.1,"opacity":1},
"encoding":{"x":{"field":"x","type":"quantitative","scale":{"type":"log","domain":[9.84,1000],"nice":false},"axis":null},"y":{"field":"y","type":"quantitative","scale":{"type":"log","domain":[0.000267,4.89],"nice":false},"axis":null}}},
{"data":{"values":[{"x1":13.65,"x2":19.45,"y":0.000618}]},"mark":{"type":"rule","color":"#3b4cf5","strokeWidth":1.2,"strokeDash":[20,6]},
"encoding":{"x":{"field":"x1","type":"quantitative","scale":{"type":"log","domain":[9.84,1000],"nice":false},"axis":null},"x2":{"field":"x2"},"y":{"field":"y","type":"quantitative","scale":{"type":"log","domain":[0.000267,4.89],"nice":false},"axis":null}}},
{"data":{"values":[{"x":4.33,"y1":0.0987,"y2":0.01331}]},"mark":{"type":"rule","color":"#000000","strokeWidth":1.5},
"encoding":{"x":{"field":"x","type":"quantitative","scale":{"type":"log","domain":[9.84,1000],"nice":false},"axis":null},"y":{"field":"y1","type":"quantitative","scale":{"type":"log","domain":[0.000267,4.89],"nice":false},"axis":null},"y2":{"field":"y2"}}},
{"data":{"name":"tc"},"transform":[{"filter":"datum.k==='tag'"}],"mark":{"type":"text","align":"left","baseline":"middle","fontSize":24,"fontWeight":"bold"},
"encoding":{"x":{"field":"x","type":"quantitative","scale":{"type":"log","domain":[9.84,1000],"nice":false},"axis":null},"y":{"field":"y","type":"quantitative","scale":{"type":"log","domain":[0.000267,4.89],"nice":false},"axis":null},"text":{"field":"t"}}},
{"data":{"name":"tc"},"transform":[{"filter":"datum.k==='leg'"}],"mark":{"type":"text","align":"left","baseline":"middle","fontSize":16},
"encoding":{"x":{"field":"x","type":"quantitative","scale":{"type":"log","domain":[9.84,1000],"nice":false},"axis":null},"y":{"field":"y","type":"quantitative","scale":{"type":"log","domain":[0.000267,4.89],"nice":false},"axis":null},"text":{"field":"t"}}},
{"data":{"name":"tc"},"transform":[{"filter":"datum.k==='legi'"}],"mark":{"type":"text","align":"left","baseline":"middle","fontSize":16,"fontStyle":"italic"},
"encoding":{"x":{"field":"x","type":"quantitative","scale":{"type":"log","domain":[9.84,1000],"nice":false},"axis":null},"y":{"field":"y","type":"quantitative","scale":{"type":"log","domain":[0.000267,4.89],"nice":false},"axis":null},"text":{"field":"t"}}},
{"data":{"name":"tc"},"transform":[{"filter":"datum.k==='legs'"}],"mark":{"type":"text","align":"left","baseline":"middle","fontSize":11},
"encoding":{"x":{"field":"x","type":"quantitative","scale":{"type":"log","domain":[9.84,1000],"nice":false},"axis":null},"y":{"field":"y","type":"quantitative","scale":{"type":"log","domain":[0.000267,4.89],"nice":false},"axis":null},"text":{"field":"t"}}},
{"data":{"name":"tc"},"transform":[{"filter":"datum.k==='blk'"}],"mark":{"type":"text","align":"left","baseline":"middle","fontSize":17},
"encoding":{"x":{"field":"x","type":"quantitative","scale":{"type":"log","domain":[9.84,1000],"nice":false},"axis":null},"y":{"field":"y","type":"quantitative","scale":{"type":"log","domain":[0.000267,4.89],"nice":false},"axis":null},"text":{"field":"t"}}},
{"data":{"name":"tc"},"transform":[{"filter":"datum.k==='blki'"}],"mark":{"type":"text","align":"left","baseline":"middle","fontSize":17,"fontStyle":"italic"},
"encoding":{"x":{"field":"x","type":"quantitative","scale":{"type":"log","domain":[9.84,1000],"nice":false},"axis":null},"y":{"field":"y","type":"quantitative","scale":{"type":"log","domain":[0.000267,4.89],"nice":false},"axis":null},"text":{"field":"t"}}},
{"data":{"name":"tc"},"transform":[{"filter":"datum.k==='blks'"}],"mark":{"type":"text","align":"left","baseline":"middle","fontSize":14},
"encoding":{"x":{"field":"x","type":"quantitative","scale":{"type":"log","domain":[9.84,1000],"nice":false},"axis":null},"y":{"field":"y","type":"quantitative","scale":{"type":"log","domain":[0.000267,4.89],"nice":false},"axis":null},"text":{"field":"t"}}},
{"data":{"name":"tc"},"transform":[{"filter":"datum.k==='fitn'"}],"mark":{"type":"text","align":"left","baseline":"middle","fontSize":19,"fontStyle":"italic"},
"encoding":{"x":{"field":"x","type":"quantitative","scale":{"type":"log","domain":[9.84,1000],"nice":false},"axis":null},"y":{"field":"y","type":"quantitative","scale":{"type":"log","domain":[0.000267,4.89],"nice":false},"axis":null},"text":{"field":"t"}}},
{"data":{"name":"tc"},"transform":[{"filter":"datum.k==='fits'"}],"mark":{"type":"text","align":"left","baseline":"middle","fontSize":13},
"encoding":{"x":{"field":"x","type":"quantitative","scale":{"type":"log","domain":[9.84,1000],"nice":false},"axis":null},"y":{"field":"y","type":"quantitative","scale":{"type":"log","domain":[0.000267,4.89],"nice":false},"axis":null},"text":{"field":"t"}}},
{"data":{"name":"tc"},"transform":[{"filter":"datum.k==='yt'"}],"mark":{"type":"text","align":"left","baseline":"alphabetic","angle":270,"fontSize":24},
"encoding":{"x":{"field":"x","type":"quantitative","scale":{"type":"log","domain":[9.84,1000],"nice":false},"axis":null},"y":{"field":"y","type":"quantitative","scale":{"type":"log","domain":[0.000267,4.89],"nice":false},"axis":null},"text":{"field":"t"}}},
{"data":{"name":"tc"},"transform":[{"filter":"datum.k==='yti'"}],"mark":{"type":"text","align":"left","baseline":"alphabetic","angle":270,"fontSize":24,"fontStyle":"italic"},
"encoding":{"x":{"field":"x","type":"quantitative","scale":{"type":"log","domain":[9.84,1000],"nice":false},"axis":null},"y":{"field":"y","type":"quantitative","scale":{"type":"log","domain":[0.000267,4.89],"nice":false},"axis":null},"text":{"field":"t"}}},
{"data":{"name":"tc"},"transform":[{"filter":"datum.k==='yts'"}],"mark":{"type":"text","align":"left","baseline":"alphabetic","angle":270,"fontSize":15},
"encoding":{"x":{"field":"x","type":"quantitative","scale":{"type":"log","domain":[9.84,1000],"nice":false},"axis":null},"y":{"field":"y","type":"quantitative","scale":{"type":"log","domain":[0.000267,4.89],"nice":false},"axis":null},"text":{"field":"t"}}},
{"data":{"name":"tc"},"transform":[{"filter":"datum.k==='ysup'"}],"mark":{"type":"text","align":"left","baseline":"alphabetic","angle":270,"fontSize":16},
"encoding":{"x":{"field":"x","type":"quantitative","scale":{"type":"log","domain":[9.84,1000],"nice":false},"axis":null},"y":{"field":"y","type":"quantitative","scale":{"type":"log","domain":[0.000267,4.89],"nice":false},"axis":null},"text":{"field":"t"}}},
{"data":{"name":"tc"},"transform":[{"filter":"datum.k==='xt'"}],"mark":{"type":"text","align":"left","baseline":"alphabetic","fontSize":24},
"encoding":{"x":{"field":"x","type":"quantitative","scale":{"type":"log","domain":[9.84,1000],"nice":false},"axis":null},"y":{"field":"y","type":"quantitative","scale":{"type":"log","domain":[0.000267,4.89],"nice":false},"axis":null},"text":{"field":"t"}}},
{"data":{"name":"tc"},"transform":[{"filter":"datum.k==='xti'"}],"mark":{"type":"text","align":"left","baseline":"alphabetic","fontSize":24,"fontStyle":"italic"},
"encoding":{"x":{"field":"x","type":"quantitative","scale":{"type":"log","domain":[9.84,1000],"nice":false},"axis":null},"y":{"field":"y","type":"quantitative","scale":{"type":"log","domain":[0.000267,4.89],"nice":false},"axis":null},"text":{"field":"t"}}},
{"data":{"name":"tc"},"transform":[{"filter":"datum.k==='xts'"}],"mark":{"type":"text","align":"left","baseline":"alphabetic","fontSize":16},
"encoding":{"x":{"field":"x","type":"quantitative","scale":{"type":"log","domain":[9.84,1000],"nice":false},"axis":null},"y":{"field":"y","type":"quantitative","scale":{"type":"log","domain":[0.000267,4.89],"nice":false},"axis":null},"text":{"field":"t"}}}
]}
]
}
